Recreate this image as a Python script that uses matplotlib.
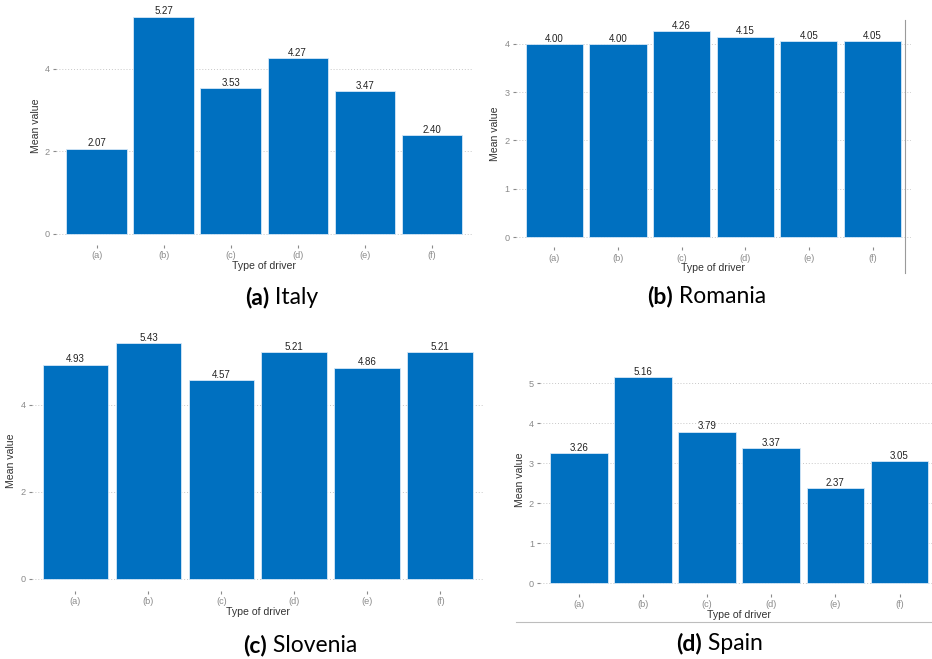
import matplotlib
matplotlib.use("Agg")
import matplotlib.pyplot as plt
from matplotlib.lines import Line2D

plt.rcParams['font.family'] = ['Liberation Sans', 'DejaVu Sans']

drivers = ['(a)', '(b)', '(c)', '(d)', '(e)', '(f)']

italy = [2.07, 5.27, 3.53, 4.27, 3.47, 2.40]
romania = [4.00, 4.00, 4.26, 4.15, 4.05, 4.05]
slovenia = [4.93, 5.43, 4.57, 5.21, 4.86, 5.21]
spain = [3.26, 5.16, 3.79, 3.37, 2.37, 3.05]

italy_ticks = [0, 2, 4]
romania_ticks = [0, 1, 2, 3, 4]
slovenia_ticks = [0, 2, 4]
spain_ticks = [0, 1, 2, 3, 4, 5]

BAR = '#0070c0'
W, H = 932, 659

fig = plt.figure(figsize=(W / 100, H / 100), dpi=100)
fig.patch.set_facecolor('white')


def panel(left, right, y0, scale, values, ticks):
    # axes box in pixels, y range padded 5% like ggplot
    m = max(values)
    lo, hi = -0.05 * m, 1.05 * m
    top = y0 - hi * scale
    bottom = y0 - lo * scale
    ax = fig.add_axes([left / W, 1 - bottom / H, (right - left) / W, (bottom - top) / H])
    x = list(range(len(values)))
    ax.bar(x, values, width=0.9, color=BAR, edgecolor='#d6e8f7', linewidth=0.6, zorder=2)
    for xi, v in zip(x, values):
        ax.annotate(f'{v:.2f}', (xi, v), xytext=(0, 0.2), textcoords='offset points',
                    ha='center', va='bottom', fontsize=7, color='#222222', zorder=3)
    ax.set_xlim(-0.6, len(values) - 0.4)
    ax.set_ylim(lo, hi)
    ax.set_xticks(x)
    ax.set_xticklabels(drivers)
    ax.set_yticks(ticks)
    ax.grid(axis='y', linestyle=(0, (1, 2)), color='#c8c8c8', linewidth=0.7, zorder=0)
    for s in ax.spines.values():
        s.set_visible(False)
    ax.tick_params(labelsize=6.6, colors='#8a8a8a', length=2, width=0.8, pad=2.5)
    ax.set_xlabel('Type of driver', fontsize=7.6, color='#333333', labelpad=0.5)
    ax.set_ylabel('Mean value', fontsize=7.6, color='#333333', labelpad=3)
    return ax


panel(56.3, 472, 234, 41.25, italy, italy_ticks)
panel(516, 910.7, 237, 48.3, romania, romania_ticks)
panel(31.7, 484, 579, 43.5, slovenia, slovenia_ticks)
panel(540.3, 938, 583.3, 40, spain, spain_ticks)

# frame pieces around the right-hand panels
fig.add_artist(Line2D([905 / W, 905 / W], [1 - 20 / H, 1 - 273 / H], color='#9a9a9a', lw=0.8))
fig.add_artist(Line2D([516 / W, 1.0], [1 - 621.7 / H, 1 - 621.7 / H], color='#bdbdbd', lw=0.8))

# subfigure captions
captions = [(269, 298, '(a)', 'Italy'),
            (673, 297, '(b)', 'Romania'),
            (267, 645, '(c)', 'Slovenia'),
            (702, 644, '(d)', 'Spain')]
for cx, cy, tag, name in captions:
    fig.text(cx / W, 1 - cy / H, tag, ha='right', va='center', fontsize=16.5,
             fontweight='bold', family='Lato', color='black')
    fig.text(cx / W, 1 - cy / H, ' ' + name, ha='left', va='center', fontsize=16.5,
             family='Lato', color='black')

fig.savefig('out.png', dpi=100)
